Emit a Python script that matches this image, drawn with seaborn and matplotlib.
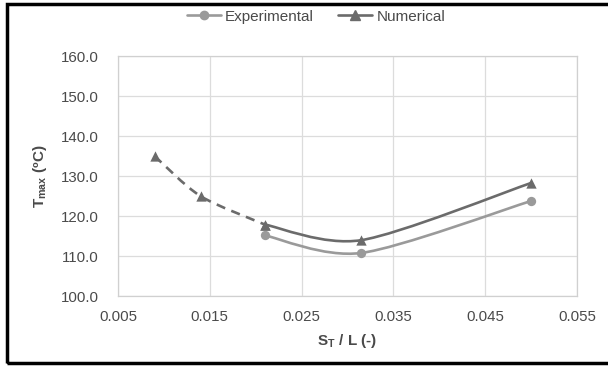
import numpy as np
import pandas as pd
import matplotlib
matplotlib.use("Agg")
import matplotlib.pyplot as plt
import seaborn as sns
from matplotlib.path import Path
from matplotlib.patches import PathPatch, Rectangle
from matplotlib.lines import Line2D

# data
st_exp = [0.021, 0.0315, 0.050]
t_exp = [115.2, 110.8, 123.8]
st_num = [0.021, 0.0315, 0.050]
t_num = [117.9, 114.0, 128.3]
st_ext = [0.009, 0.014, 0.021]      # dashed extrapolated part of numerical
t_ext = [135.0, 125.0, 117.9]

x_ticks = [0.005, 0.015, 0.025, 0.035, 0.045, 0.055]
y_ticks = [100, 110, 120, 130, 140, 150, 160]

c_exp = '#9a9a9a'
c_num = '#6b6b6b'
c_txt = '#4a4a4a'

sns.set_theme(style='white')
plt.rcParams['font.family'] = ['Liberation Sans', 'DejaVu Sans']
plt.rcParams['mathtext.fontset'] = 'custom'
plt.rcParams['mathtext.rm'] = 'Liberation Sans'
plt.rcParams['mathtext.bf'] = 'Liberation Sans:bold'


def smooth_path(xs, ys, k=0.85):
    # Excel-like smoothed line: cubic bezier segments (Catmull-Rom tangents)
    p = np.column_stack([xs, ys]).astype(float)
    n = len(p)
    verts = [p[0]]
    codes = [Path.MOVETO]
    for i in range(n - 1):
        p_prev = p[i - 1] if i > 0 else p[i]
        p_next2 = p[i + 2] if i + 2 < n else p[i + 1]
        c1 = p[i] + k * (p[i + 1] - p_prev) / 6
        c2 = p[i + 1] - k * (p_next2 - p[i]) / 6
        verts += [c1, c2, p[i + 1]]
        codes += [Path.CURVE4] * 3
    return Path(verts, codes)


fig = plt.figure(figsize=(6.08, 3.67), dpi=100)
ax = fig.add_axes([0.194, 0.193, 0.755, 0.654])

ax.add_patch(PathPatch(smooth_path(st_exp, t_exp), fill=False, ec=c_exp, lw=1.9, zorder=2))
ax.add_patch(PathPatch(smooth_path(st_num, t_num), fill=False, ec=c_num, lw=1.9, zorder=2))
ax.add_patch(PathPatch(smooth_path(st_ext, t_ext), fill=False, ec=c_num, lw=1.9,
                       ls=(0, (3.5, 2.5)), zorder=2))

df_exp = pd.DataFrame({'st': st_exp, 't': t_exp})
df_num = pd.DataFrame({'st': st_num + st_ext, 't': t_num + t_ext})
sns.scatterplot(data=df_exp, x='st', y='t', ax=ax, color=c_exp, marker='o', s=45,
                edgecolor=c_exp, linewidth=0, zorder=3)
sns.scatterplot(data=df_num, x='st', y='t', ax=ax, color=c_num, marker='^', s=55,
                edgecolor=c_num, linewidth=0, zorder=3)

ax.set_xlim(0.005, 0.055)
ax.set_ylim(100, 160)
ax.set_xticks(x_ticks)
ax.set_xticklabels([f'{v:.3f}' for v in x_ticks])
ax.set_yticks(y_ticks)
ax.set_yticklabels([f'{v:.1f}' for v in y_ticks])
ax.tick_params(labelsize=10.8, colors=c_txt, length=0)
ax.tick_params(axis='x', pad=10)
ax.tick_params(axis='y', pad=14)
ax.grid(True, color='#dcdcdc', lw=0.9)
for s in ax.spines.values():
    s.set_color('#d0d0d0')
    s.set_linewidth(0.9)

ax.set_xlabel(r'$\mathbf{S}_{\mathbf{T}}$' + ' / L (-)', fontsize=11, fontweight='bold',
              color=c_txt, labelpad=6)
ax.set_ylabel(r'$\mathbf{T}_{\mathbf{max}}$' + ' (ºC)', fontsize=11, fontweight='bold',
              color=c_txt, labelpad=8)

handles = [Line2D([], [], color=c_exp, marker='o', ms=6, lw=1.9),
           Line2D([], [], color=c_num, marker='^', ms=6.5, lw=1.9)]
fig.legend(handles, ['Experimental', 'Numerical'], loc='center', ncol=2,
           bbox_to_anchor=(0.52, 0.955), frameon=False, fontsize=11,
           handlelength=2.2, columnspacing=1.6, handletextpad=0.3,
           labelcolor=c_txt)

# outer frame of the chart
fig.patches.append(Rectangle((0.011, 0.012), 1.2, 0.978, transform=fig.transFigure,
                             fill=False, ec='black', lw=2.5))

fig.savefig('out.png', dpi=100)
